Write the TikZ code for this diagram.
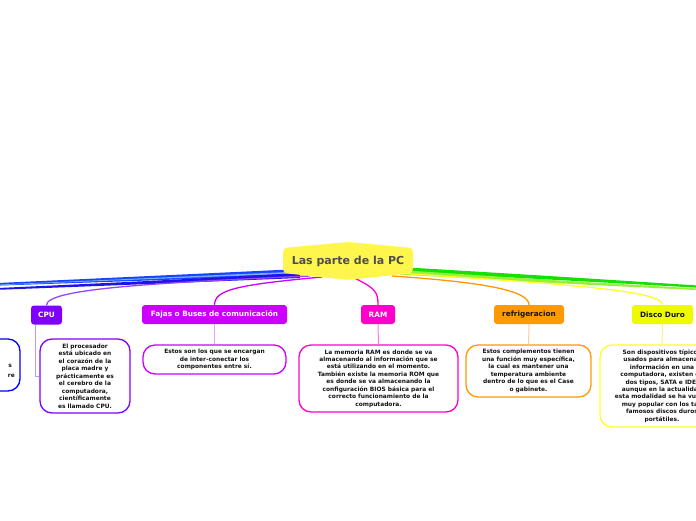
\documentclass[tikz,border=0pt]{standalone}
\usepackage{fontspec}
\setmainfont{DejaVu Sans}
\definecolor{titleyellow}{RGB}{255,246,77}
\definecolor{titletext}{RGB}{77,77,77}
\definecolor{cpucol}{RGB}{128,0,255}
\definecolor{fajcol}{RGB}{204,0,255}
\definecolor{ramcol}{RGB}{255,0,204}
\definecolor{refcol}{RGB}{255,153,0}
\definecolor{discol}{RGB}{238,250,0}
\definecolor{disline}{RGB}{255,255,40}
\definecolor{bluea}{RGB}{20,70,255}
\definecolor{blueb}{RGB}{30,20,230}
\definecolor{bluec}{RGB}{120,170,255}
\definecolor{greena}{RGB}{20,225,0}
\definecolor{greenb}{RGB}{150,240,60}
\definecolor{textdark}{RGB}{20,20,20}
\definecolor{cpuline}{RGB}{150,70,255}
\definecolor{cpuchild}{RGB}{190,150,255}
\definecolor{fajchild}{RGB}{235,160,255}
\definecolor{ramchild}{RGB}{255,120,225}
\definecolor{refchild}{RGB}{255,205,150}
\definecolor{dischild}{RGB}{250,245,120}
\tikzset{
  topic/.style={fill=#1, rounded corners=3pt, inner sep=0pt, minimum height=19pt,
    font=\fontsize{7.3}{8.5}\selectfont\bfseries},
  tbox/.style={draw=#1, line width=1.3pt, rounded corners=12pt, fill=white, align=center,
    inner sep=0pt, text=textdark, font=\fontsize{5.9}{7.45}\selectfont\bfseries},
  mainline/.style={draw=#1, line width=1.3pt},
  childline/.style={draw=#1, line width=1pt}
}
\begin{document}
\begin{tikzpicture}[x=1pt,y=-1pt]
\useasboundingbox (0,0) rectangle (696,520);
\clip (0,0) rectangle (696,520);
\fill[white] (0,0) rectangle (696,520);

% free ends off the canvas
\coordinate (bl1) at (-2,283);
\coordinate (bl2) at (-2,288);
\coordinate (gr1) at (698,285.5);
\coordinate (gr2) at (698,288.5);

% tapered branches to the left (blue) and right (green)
\fill[bluea] (300,269) .. controls (150,276) .. (bl1) -- ([yshift=-2.6pt]bl1) .. controls (150,280.5) .. (300,275) -- cycle;
\fill[bluec] (300,271.5) .. controls (150,278) .. ([yshift=-1.6pt]bl1) -- ([yshift=-2.2pt]bl1) .. controls (150,279) .. (300,273.5) -- cycle;
\fill[blueb] (300,273) .. controls (150,281) .. (bl2) -- ([yshift=-1.8pt]bl2) .. controls (150,284) .. (300,278) -- cycle;
\fill[greena] (400,267) .. controls (550,276) .. (gr1) -- ([yshift=-2.2pt]gr1) .. controls (550,279.5) .. (400,272) -- cycle;
\fill[greenb] (400,270) .. controls (550,280) .. (gr2) -- ([yshift=-1.6pt]gr2) .. controls (550,283) .. (400,274.5) -- cycle;

% topic nodes
\node[topic=cpucol, minimum width=31pt, text=white] (cpu) at (46.5,315) {CPU};
\node[topic=fajcol, minimum width=145pt, text=white] (fajas) at (214.5,314.5) {Fajas o Buses de comunicación};
\node[topic=ramcol, minimum width=34pt, text=white] (ram) at (378,314.5) {RAM};
\node[topic=refcol, minimum width=70pt, text=textdark] (ref) at (529,314.5) {refrigeracion};
\node[topic=discol, minimum width=61pt, text=textdark] (disco) at (662.5,314.5) {Disco Duro};

% start points of the main connectors (under the central topic)
\coordinate (sCPU) at (310,276);
\coordinate (sFaj) at (322,277);
\coordinate (sRam) at (350,276);
\coordinate (sRef) at (392,276);
\coordinate (sDis) at (398,273);

\draw[mainline=cpuline] (sCPU) .. controls (150,283) and (46,289) .. (cpu.north);
\draw[mainline=fajcol] (sFaj) .. controls (235,285) and (215,290) .. (fajas.north);
\draw[mainline=ramcol] (sRam) .. controls (376,288) and (378,292) .. (ram.north);
\draw[mainline=refcol] (sRef) .. controls (480,282) and (529,290) .. (ref.north);
\draw[mainline=disline] (sDis) .. controls (560,284) and (662,290) .. (disco.north);

% central topic
\fill[titleyellow, rounded corners=4pt] (283,248) -- (348,242) -- (413,248) -- (413,273) -- (348,280) -- (283,273) -- cycle;
\node[text=titletext, font=\fontsize{11}{13}\selectfont\bfseries] (title) at (348,261.5) {Las parte de la PC};

% text boxes
\node[tbox=blue, minimum width=130pt, minimum height=52pt] (lefttxt) at (-45,365) {};
\node[text=textdark, font=\fontsize{5.9}{7.45}\selectfont\bfseries, anchor=east, inner sep=0pt] (lefts) at (12,366) {s};
\node[text=textdark, font=\fontsize{5.9}{7.45}\selectfont\bfseries, anchor=east, inner sep=0pt] (leftre) at (15,376) {re};

\node[tbox=cpucol, minimum width=90pt, minimum height=74pt] (cputxt) at (85,376)
  {El procesador\\está ubicado en\\el corazón de la\\placa madre y\\prácticamente es\\el cerebro de la\\computadora,\\científicamente\\es llamado CPU.};
\node[tbox=fajcol, minimum width=143pt, minimum height=29pt] (fajtxt) at (214.5,359.5)
  {Estos son los que se encargan\\de inter-conectar los\\componentes entre sí.};
\node[tbox=ramcol, minimum width=159pt, minimum height=67pt] (ramtxt) at (378.5,378.5)
  {La memoria RAM es donde se va\\almacenando al información que se\\está utilizando en el momento.\\También existe la memoria ROM que\\es donde se va almacenando la\\configuración BIOS básica para el\\correcto funcionamiento de la\\computadora.};
\node[tbox=refcol, minimum width=125pt, minimum height=52pt] (reftxt) at (528.5,371)
  {Estos complementos tienen\\una función muy específica,\\la cual es mantener una\\temperatura ambiente\\dentro de lo que es el Case\\o gabinete.};
\node[tbox=disline, minimum width=124pt, minimum height=82pt] (distxt) at (662,386)
  {Son dispositivos típicos\\usados para almacenar\\información en una\\computadora, existen de\\dos tipos, SATA e IDE,\\aunque en la actualidad\\esta modalidad se ha vuelto\\muy popular con los tan\\famosos discos duros\\portátiles.};

% child connectors
\draw[childline=cpuchild] ([xshift=4.5pt]cpu.south west) |- (cputxt.west);
\draw[childline=fajchild] (fajas.south) -- (fajtxt.north);
\draw[childline=ramchild] (ram.south) -- (ramtxt.north);
\draw[childline=refchild] (ref.south) -- (reftxt.north);
\draw[childline=dischild] (disco.south) -- (distxt.north);
\end{tikzpicture}
\end{document}
